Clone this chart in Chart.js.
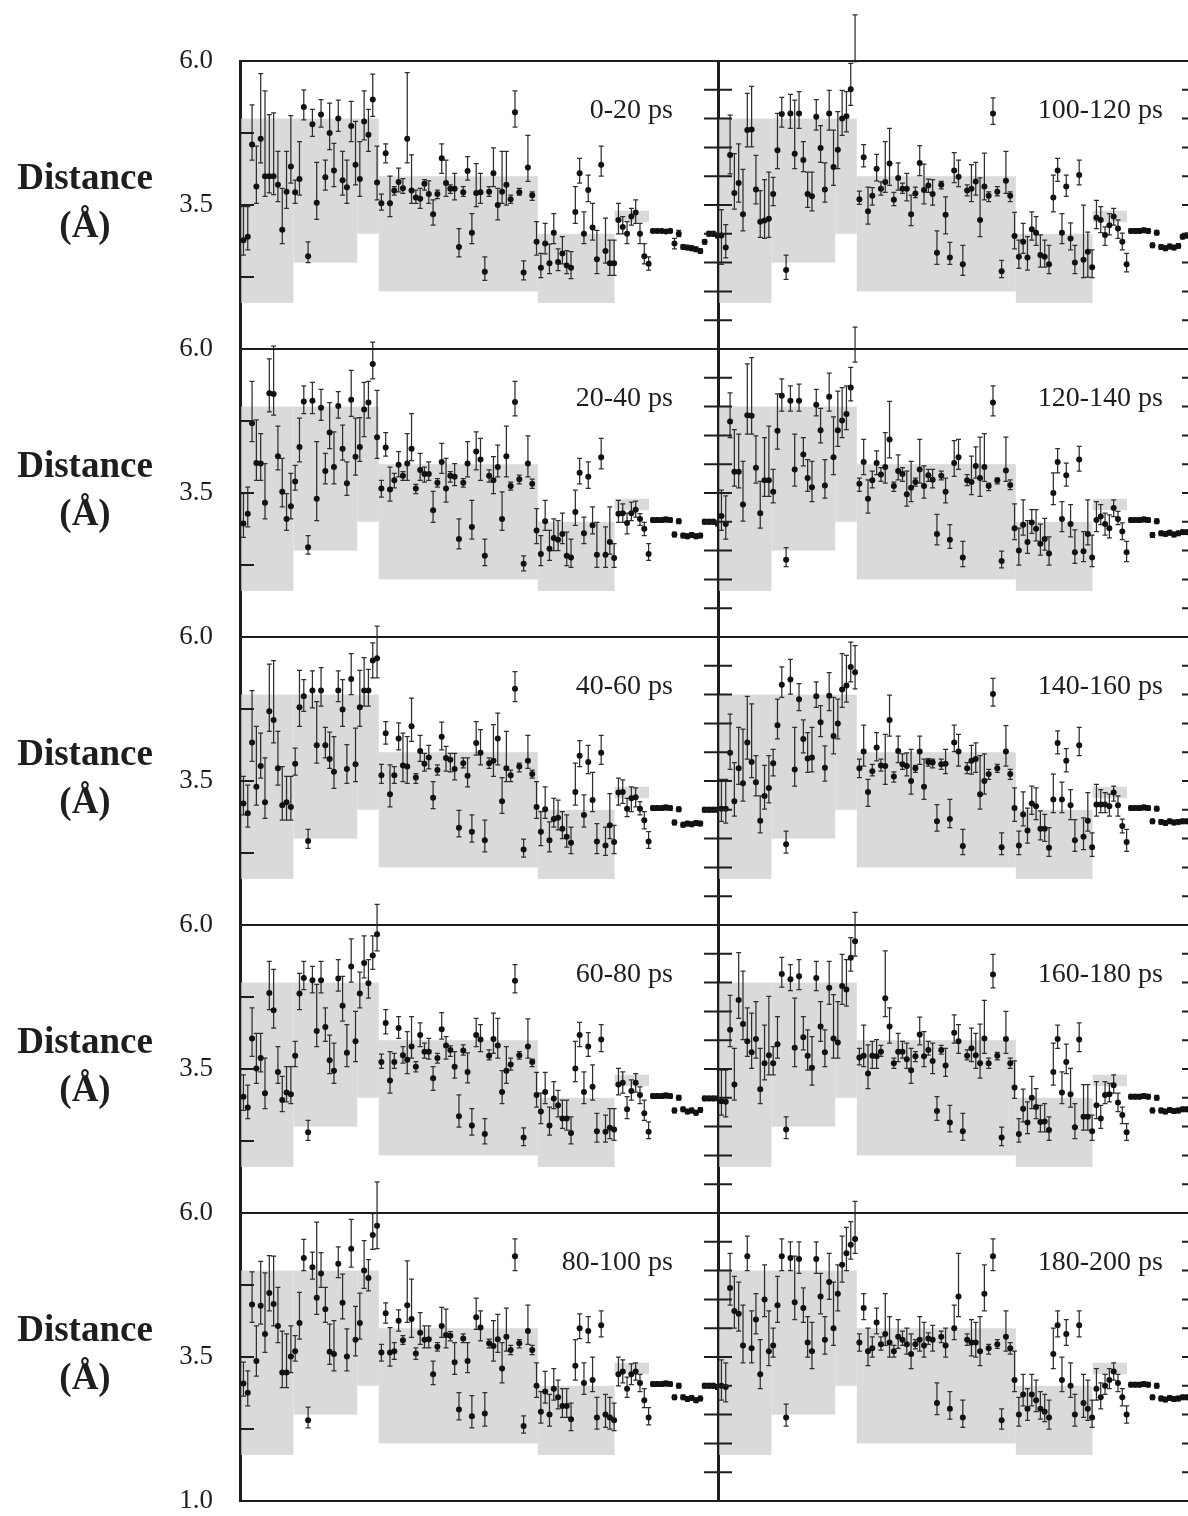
<!DOCTYPE html>
<html><head><meta charset="utf-8">
<script src="https://cdn.jsdelivr.net/npm/chart.js@4.4.0/dist/chart.umd.min.js"></script>
<style>
html,body{margin:0;padding:0;background:#fff;overflow:hidden;}
#wrap{position:relative;width:1188px;height:1516px;overflow:hidden;background:#fff;}
canvas{position:absolute;}
.ylab{position:absolute;left:0;width:170px;text-align:center;font-family:"Liberation Serif","Times New Roman",serif;font-weight:bold;font-size:37px;line-height:48px;color:#1e1e1e;}
.plab{position:absolute;text-align:right;font-family:"Liberation Serif","Times New Roman",serif;font-size:28px;line-height:28px;color:#1e1e1e;white-space:nowrap;}
</style></head><body><div id="wrap"></div>
<script>
// ---------------- DATA ----------------
const panelLabels = ['0-20 ps','20-40 ps','40-60 ps','60-80 ps','80-100 ps','100-120 ps','120-140 ps','140-160 ps','160-180 ps','180-200 ps'];
const yTickLabels = {6:'6.0', 3.5:'3.5', 1:'1.0'};
const yAxisLabel = ['Distance','(Å)'];
// NOE bound boxes (x in restraint index units)
const segStart = [-0.5, 11.6, 26.4, 31.4, 68.3, 86.1];
const segEnd   = [11.6, 26.4, 31.4, 68.3, 86.1, 94.1];
const segLow   = [1.8, 2.5, 3.0, 2.0, 1.8, 3.2];
const segHigh  = [5.0, 5.0, 5.0, 4.0, 3.0, 3.4];

// 0-20 ps
const V1 = [2.89,2.95,4.55,3.82,4.65,4.0,4.0,4.0,3.85,3.07,
3.73,4.17,3.72,3.95,5.2,2.61,4.9,3.54,5.07,3.98,
4.75,4.1,5.0,3.93,3.81,4.87,4.2,3.95,4.95,4.72,
5.33,3.89,3.53,4.4,3.53,3.75,3.9,3.79,4.65,3.75,
3.63,3.61,3.87,3.69,3.34,3.69,4.31,3.88,3.78,3.78,
2.77,3.72,4.09,3.02,3.71,3.72,2.34,3.73,4.05,3.5,
3.73,3.85,3.6,5.11,3.72,2.33,4.15,3.67,2.86,2.41,
2.83,2.49,3.02,2.51,2.66,2.45,2.41,3.38,4.05,3.0,
3.76,3.11,2.56,4.2,2.7,2.49,2.49,3.24,3.12,3.0,
3.3,3.37,3.0,2.61,2.48,3.05,3.05,3.05,3.04,3.05,
2.83,3.0,2.77,2.76,2.75,2.73,2.7,2.86,3.0,3.0,
2.97];
const H1 = [3.47,3.47,5.24,4.52,5.78,5.48,5.07,5.1,4.43,3.79,
4.43,5.05,3.93,4.6,5.5,2.86,5.16,4.24,5.33,4.28,
5.27,4.57,5.32,4.43,4.28,5.3,4.95,4.6,5.48,5.16,
5.77,4.52,3.69,4.56,4.0,3.82,4.14,3.96,5.8,4.37,
3.76,3.79,3.94,3.92,3.59,3.76,4.56,4.28,3.85,4.05,
3.09,3.82,4.34,3.35,4.22,4.05,2.6,3.82,4.49,3.79,
4.43,4.43,3.67,5.48,3.79,2.53,4.71,3.73,3.21,2.66,
3.18,2.82,3.35,2.74,2.95,2.71,2.69,3.82,4.31,3.38,
4.02,3.53,3.06,4.52,3.27,2.89,2.89,3.53,3.3,3.21,
3.44,3.59,3.18,2.83,2.6,3.08,3.08,3.08,3.07,3.08,
2.92,3.06,2.81,2.8,2.79,2.77,2.74,2.9,3.04,3.04,
3.01];
const L1 = [2.63,2.72,4.28,3.53,4.23,3.65,3.71,3.68,3.56,2.83,
3.44,3.88,3.53,3.67,4.98,2.5,4.69,3.25,4.85,3.76,
4.46,3.82,4.78,3.67,3.53,4.6,3.85,3.65,4.63,4.43,
5.04,3.59,3.41,4.23,3.3,3.67,3.73,3.7,4.23,3.53,
3.53,3.44,3.76,3.53,3.15,3.61,4.05,3.65,3.7,3.59,
2.6,3.65,3.93,2.83,3.47,3.53,2.19,3.65,3.82,3.24,
3.53,3.5,3.53,4.85,3.67,2.2,3.91,3.58,2.63,2.24,
2.65,2.31,2.83,2.36,2.48,2.31,2.22,3.18,3.88,2.83,
3.56,2.89,2.31,4.0,2.49,2.28,2.28,3.0,3.0,2.83,
3.15,3.18,2.83,2.48,2.37,3.02,3.02,3.02,3.01,3.02,
2.74,2.95,2.73,2.72,2.71,2.69,2.66,2.82,2.96,2.96,
2.93];

// 20-40 ps
const V2 = [2.97,3.14,4.71,4.02,4.01,3.33,5.23,5.22,4.14,3.52,
3.05,3.27,3.7,4.3,5.09,2.56,5.1,3.4,4.98,3.88,
4.55,3.95,5.01,4.27,3.67,5.12,4.13,4.3,4.95,5.07,
5.74,4.47,3.58,4.29,3.56,3.72,3.99,3.8,4.01,4.27,
3.58,3.9,3.83,3.83,3.2,3.68,4.04,3.58,3.8,3.78,
2.7,3.68,4.01,2.91,4.22,4.08,2.41,3.8,3.72,3.95,
3.05,4.14,3.62,5.08,3.74,2.27,4.01,3.66,2.85,2.44,
3.01,2.53,2.72,2.69,2.79,2.41,2.38,3.17,3.85,2.8,
3.78,2.94,2.43,4.12,2.43,2.65,2.37,3.14,3.15,2.98,
3.15,3.21,3.05,2.88,2.44,3.03,3.03,3.03,3.04,3.03,
2.78,3.01,2.76,2.75,2.77,2.75,2.76,3.0,3.0,3.0,
2.97];
const H2 = [3.49,3.6,5.44,4.77,4.53,4.01,5.83,6.05,4.66,4.1,
3.49,3.84,3.98,4.8,5.36,2.76,5.42,4.39,5.3,4.19,
5.07,4.56,5.26,4.68,4.04,5.63,4.8,4.81,5.42,5.44,
6.12,5.28,3.72,4.55,3.95,3.84,4.22,3.87,4.53,4.88,
3.65,4.19,3.95,4.04,3.53,3.75,4.36,4.1,3.87,4.01,
3.05,3.75,4.39,3.37,4.56,4.45,2.7,3.9,4.13,4.33,
3.52,4.66,3.69,5.44,3.81,2.41,4.49,3.74,3.23,2.76,
3.37,2.85,3.05,3.02,3.15,2.82,2.7,3.55,4.1,3.08,
4.04,3.26,2.99,4.45,2.91,3.26,2.62,3.37,3.31,3.15,
3.34,3.36,3.14,2.99,2.62,3.07,3.07,3.07,3.08,3.07,
2.82,3.05,2.8,2.79,2.81,2.79,2.8,3.04,3.04,3.04,
3.01];
const L2 = [2.73,2.91,4.39,3.72,3.72,3.05,4.91,4.85,3.9,3.26,
2.85,3.05,3.55,4.04,4.88,2.44,4.88,3.02,4.76,3.66,
4.27,3.66,4.8,4.07,3.46,4.83,3.81,4.05,4.48,4.8,
5.48,4.1,3.43,4.14,3.36,3.59,3.78,3.72,3.72,4.06,
3.49,3.72,3.69,3.72,2.99,3.6,3.84,3.34,3.69,3.63,
2.53,3.6,3.78,2.7,3.9,3.72,2.24,3.69,3.49,3.78,
2.85,3.78,3.55,4.84,3.66,2.15,3.78,3.58,2.62,2.24,
2.85,2.33,2.5,2.5,2.62,2.24,2.21,2.94,3.66,2.62,
3.58,2.79,2.21,3.92,2.21,2.44,2.21,2.99,2.99,2.79,
3.02,3.08,2.94,2.76,2.33,2.99,2.99,2.99,3.0,2.99,
2.74,2.97,2.72,2.71,2.73,2.71,2.72,2.96,2.96,2.96,
2.93];

// 40-60 ps
const V3 = [3.11,2.94,4.17,3.4,3.76,3.13,4.71,4.56,3.72,3.08,
3.13,3.05,3.8,4.78,4.97,2.46,5.07,4.12,5.07,4.12,
3.88,3.66,5.07,4.74,3.71,5.27,3.79,4.78,5.07,5.07,
5.59,5.63,3.6,4.33,3.27,3.6,4.24,3.77,3.75,4.45,
3.56,4.02,3.8,3.91,3.21,3.69,4.27,3.9,3.87,3.71,
2.69,3.81,3.59,2.62,4.16,3.99,2.47,3.81,3.85,4.24,
3.15,3.72,3.6,5.1,3.75,2.31,3.85,3.62,3.05,2.62,
3.01,2.47,2.84,2.86,2.67,2.53,2.43,3.31,3.94,2.91,
3.83,3.17,2.45,3.99,2.38,2.73,2.44,3.3,3.31,3.02,
3.2,3.22,3.02,2.82,2.45,3.03,3.03,3.03,3.04,3.03,
2.78,3.01,2.74,2.76,2.75,2.77,2.76,3.0,3.0,3.0,
3.0];
const H3 = [3.58,3.43,5.07,4.45,4.33,3.9,5.53,5.59,4.36,3.75,
3.58,3.58,4.07,5.42,5.26,2.66,5.41,4.88,5.47,4.43,
4.35,4.27,5.41,5.26,4.13,5.71,4.42,5.42,5.64,5.44,
5.9,6.19,3.79,4.53,3.78,3.75,4.51,4.33,4.27,4.94,
3.63,4.29,3.98,4.12,3.49,3.78,4.52,4.1,3.98,3.98,
2.99,3.9,3.9,2.91,4.53,4.39,2.82,3.9,4.48,4.68,
3.56,4.36,3.69,5.4,3.81,2.49,4.29,3.69,3.49,2.97,
3.4,2.79,3.2,3.17,2.97,2.91,2.7,3.81,4.2,3.26,
4.12,3.65,2.76,4.29,2.7,3.28,2.73,3.55,3.52,3.2,
3.4,3.38,3.14,2.97,2.62,3.07,3.07,3.07,3.08,3.07,
2.82,3.05,2.78,2.8,2.79,2.81,2.8,3.04,3.04,3.04,
3.04];
const L3 = [2.91,2.7,3.84,3.08,3.55,2.85,4.36,4.16,3.43,2.82,
2.82,2.82,3.6,4.45,4.71,2.33,4.77,3.81,4.8,3.9,
3.72,3.37,4.88,4.45,3.46,5.0,3.49,4.45,4.8,4.8,
5.29,5.29,3.46,4.14,3.05,3.46,4.04,3.49,3.46,4.19,
3.46,3.84,3.67,3.71,3.02,3.6,4.04,3.67,3.66,3.52,
2.53,3.73,3.4,2.44,3.95,3.78,2.27,3.72,3.58,3.78,
2.94,3.49,3.49,4.88,3.66,2.18,3.72,3.55,2.85,2.38,
2.85,2.27,2.7,2.65,2.5,2.35,2.24,3.08,3.75,2.7,
3.63,2.97,2.24,3.79,2.21,2.5,2.24,3.08,3.11,2.88,
2.97,3.05,2.91,2.67,2.33,2.99,2.99,2.99,3.0,2.99,
2.74,2.97,2.7,2.72,2.71,2.73,2.72,2.96,2.96,2.96,
2.96];

// 60-80 ps
const V4 = [3.02,2.83,4.03,3.51,3.69,3.08,4.82,4.52,3.45,2.96,
3.09,3.06,3.73,4.81,5.08,2.4,5.04,4.16,5.04,4.23,
3.65,3.47,5.07,4.6,3.78,5.28,3.98,4.81,5.34,4.99,
5.47,5.84,3.62,4.3,3.3,3.62,4.21,3.74,3.66,3.89,
3.54,4.09,3.8,3.8,3.34,3.69,4.19,3.91,3.83,3.54,
2.68,3.82,3.45,2.52,4.09,4.01,2.37,3.73,4.02,3.91,
3.1,3.47,3.58,5.03,3.74,2.31,3.89,3.62,3.05,2.76,
3.1,2.52,2.99,2.87,2.64,2.64,2.39,3.51,4.09,3.1,
3.89,3.19,2.42,4.01,2.41,2.48,2.45,3.23,3.26,2.8,
3.12,3.26,3.05,2.73,2.41,3.03,3.03,3.03,3.04,3.03,
2.78,3.0,2.8,2.76,2.78,2.74,2.79,2.99,2.99,2.99,
2.99];
const H4 = [3.4,3.22,4.56,4.12,4.12,3.69,5.37,5.23,3.89,3.37,
3.54,3.54,3.98,5.16,5.37,2.61,5.28,4.97,5.37,4.56,
4.09,3.95,5.4,5.11,4.27,5.76,4.5,5.18,5.81,5.4,
5.81,6.36,3.76,4.53,3.8,3.77,4.41,3.89,4.15,4.41,
3.63,4.3,3.95,4.03,3.54,3.77,4.48,4.06,3.9,3.8,
3.05,3.92,3.78,2.81,4.38,4.27,2.64,3.83,4.47,4.38,
3.47,3.89,3.69,5.31,3.8,2.48,4.37,3.67,3.44,3.08,
3.44,2.84,3.28,3.13,2.96,2.96,2.67,3.98,4.31,3.45,
4.13,3.57,2.73,4.27,2.7,2.81,2.81,3.51,3.45,3.02,
3.31,3.42,3.19,2.96,2.58,3.07,3.07,3.07,3.08,3.07,
2.82,3.04,2.84,2.8,2.82,2.78,2.83,3.03,3.03,3.03,
3.03];
const L4 = [2.78,2.64,3.72,3.25,3.45,2.81,4.53,4.21,3.25,2.76,
2.93,2.9,3.54,4.53,4.88,2.26,4.82,3.89,4.82,3.98,
3.42,3.25,4.85,4.33,3.54,5.01,3.63,4.56,5.08,4.73,
5.23,5.55,3.51,4.11,3.08,3.51,4.03,3.6,3.42,3.69,
3.45,3.89,3.69,3.67,3.13,3.6,4.02,3.67,3.72,3.34,
2.49,3.74,3.26,2.35,3.89,3.8,2.2,3.66,3.77,3.69,
2.9,3.25,3.48,4.82,3.67,2.17,3.69,3.54,2.84,2.55,
2.9,2.35,2.81,2.67,2.47,2.44,2.2,3.28,3.89,2.9,
3.72,2.96,2.23,3.8,2.23,2.29,2.26,3.05,3.08,2.64,
2.96,3.1,2.9,2.61,2.29,2.99,2.99,2.99,3.0,2.99,
2.74,2.96,2.76,2.72,2.74,2.7,2.75,2.95,2.95,2.95,
2.95];

// 80-100 ps
const V5 = [3.04,2.88,4.41,3.43,4.39,3.9,4.61,4.42,4.04,3.23,
3.23,3.51,3.6,4.09,5.22,2.4,5.06,4.53,4.95,4.33,
3.59,3.55,5.12,4.44,3.51,5.38,3.8,4.09,5.0,4.87,
5.62,5.78,3.58,4.26,3.58,3.6,4.13,3.79,4.4,4.16,
3.56,3.92,3.8,3.81,3.2,3.68,4.04,3.88,3.87,3.41,
2.59,3.82,3.43,2.47,4.19,4.01,2.52,3.74,3.69,3.81,
3.3,3.85,3.62,5.25,3.74,2.3,3.95,3.62,3.0,2.55,
2.9,2.5,2.95,2.8,2.65,2.65,2.42,3.35,4.0,3.05,
3.95,3.1,2.45,4.05,2.5,2.45,2.4,3.2,3.25,2.95,
3.2,3.25,3.05,2.75,2.45,3.03,3.03,3.03,3.04,3.03,
2.8,3.0,2.8,2.77,2.79,2.75,2.78,3.0,3.0,3.0,
2.98];
const H5 = [3.41,3.26,4.98,4.04,5.16,4.96,5.26,5.25,4.71,3.95,
3.9,4.04,3.87,4.62,5.54,2.63,5.32,5.84,5.31,4.71,
4.07,4.13,5.41,4.94,3.99,5.89,4.38,4.61,5.52,5.19,
5.99,6.54,3.72,4.44,4.01,3.75,4.32,3.87,5.17,4.85,
3.66,4.27,4.04,4.04,3.43,3.75,4.36,4.33,3.94,3.75,
2.88,3.9,3.75,2.83,4.52,4.3,2.88,3.81,4.13,4.24,
3.75,4.35,3.7,5.55,3.8,2.48,4.4,3.7,3.4,2.9,
3.25,2.85,3.3,3.1,2.95,2.95,2.7,3.8,4.25,3.4,
4.2,3.5,2.8,4.3,2.85,2.8,2.7,3.5,3.45,3.15,
3.38,3.4,3.2,2.95,2.62,3.07,3.07,3.07,3.08,3.07,
2.84,3.04,2.84,2.81,2.83,2.79,2.82,3.04,3.04,3.04,
3.02];
const L5 = [2.82,2.65,4.1,3.17,4.07,3.58,4.3,4.04,3.75,2.97,
2.97,3.23,3.43,3.81,5.0,2.27,4.85,4.24,4.71,4.1,
3.37,3.26,4.88,4.16,3.26,5.06,3.52,3.81,4.69,4.65,
5.37,5.38,3.43,4.09,3.34,3.46,3.95,3.72,4.1,3.84,
3.46,3.72,3.66,3.66,3.02,3.6,3.84,3.66,3.78,3.2,
2.41,3.75,3.23,2.27,3.98,3.78,2.3,3.66,3.43,3.58,
3.05,3.6,3.54,5.0,3.66,2.18,3.72,3.54,2.8,2.35,
2.7,2.3,2.75,2.6,2.45,2.45,2.22,3.1,3.82,2.85,
3.75,2.9,2.25,3.85,2.28,2.25,2.22,3.0,3.05,2.8,
3.02,3.1,2.9,2.62,2.32,2.99,2.99,2.99,3.0,2.99,
2.76,2.96,2.76,2.73,2.75,2.71,2.74,2.96,2.96,2.96,
2.94];

// 100-120 ps
const V6 = [2.97,2.76,4.37,3.71,3.88,3.34,4.8,4.81,3.77,3.21,
3.23,3.26,3.69,4.45,5.08,2.37,5.09,4.39,5.09,4.28,
3.69,3.65,5.03,4.49,3.77,5.09,4.16,4.46,5.0,5.04,
5.51,6.31,3.6,4.33,3.39,3.66,4.13,3.78,3.9,4.22,
3.59,3.97,3.78,3.78,3.34,3.7,4.23,3.76,3.84,3.69,
2.67,3.85,3.33,2.59,4.1,3.99,2.47,3.75,3.78,3.91,
3.24,3.82,3.66,5.09,3.73,2.35,3.92,3.66,2.96,2.6,
2.86,2.59,3.08,3.02,2.63,2.6,2.47,3.63,4.1,3.02,
3.82,2.92,2.5,4.02,2.55,2.69,2.42,3.28,3.24,2.98,
3.15,3.3,3.09,2.86,2.47,3.05,3.05,3.05,3.06,3.05,
2.8,3.02,2.77,2.75,2.78,2.76,2.79,2.95,2.97,2.97,
2.95];
const H6 = [3.42,3.16,5.06,4.39,4.56,4.12,5.44,5.56,4.36,3.75,
3.94,4.07,3.98,5.09,5.37,2.63,5.42,5.32,5.47,4.6,
4.07,4.07,5.33,4.88,4.23,5.49,4.8,5.12,5.49,5.47,
5.96,6.8,3.74,4.55,3.81,3.8,4.38,3.9,4.6,4.83,
3.72,4.23,3.88,4.05,3.67,3.81,4.53,4.21,3.95,3.94,
3.05,3.91,3.64,2.85,4.41,4.28,2.8,3.85,4.2,4.24,
3.97,4.4,3.73,5.36,3.82,2.54,4.43,3.73,3.37,2.89,
3.18,2.95,3.38,3.3,2.98,2.89,2.8,4.02,4.31,3.35,
4.02,3.19,2.8,4.28,3.5,3.03,2.72,3.58,3.47,3.12,
3.35,3.44,3.24,3.01,2.66,3.09,3.09,3.09,3.1,3.09,
2.84,3.06,2.81,2.79,2.82,2.8,2.83,2.99,3.01,3.01,
2.99];
const L6 = [2.47,2.58,4.04,3.43,3.55,3.05,4.51,4.51,3.52,2.94,
2.92,2.94,3.49,4.13,4.85,2.21,4.83,4.13,4.83,4.08,
3.46,3.4,4.8,4.24,3.55,4.8,3.84,4.13,4.71,4.77,
5.23,5.99,3.51,4.16,3.17,3.5,3.92,3.67,3.72,3.84,
3.49,3.76,3.7,3.57,3.14,3.63,4.01,3.52,3.72,3.5,
2.47,3.78,3.0,2.47,3.89,3.82,2.28,3.66,3.56,3.67,
2.95,3.59,3.56,4.9,3.66,2.24,3.7,3.56,2.74,2.4,
2.66,2.37,2.89,2.8,2.42,2.42,2.31,3.38,3.91,2.83,
3.65,2.72,2.31,3.85,2.24,2.25,2.24,3.09,3.02,2.8,
2.98,3.15,2.92,2.72,2.34,3.01,3.01,3.01,3.02,3.01,
2.76,2.98,2.73,2.71,2.74,2.72,2.75,2.91,2.93,2.93,
2.91];

// 120-140 ps
const V7 = [3.1,2.96,4.74,3.87,3.87,3.3,4.85,4.84,3.94,3.15,
3.72,3.72,3.52,4.58,5.19,2.34,5.1,3.91,5.1,4.17,
3.76,3.6,5.03,4.59,3.63,5.17,4.12,4.59,4.76,4.87,
5.33,6.06,3.66,4.04,3.4,3.72,4.02,3.82,3.95,4.43,
3.62,3.88,3.83,3.48,3.59,3.69,3.91,3.62,3.81,3.73,
2.79,3.8,3.52,2.69,4.02,4.12,2.38,3.72,3.69,3.97,
3.76,3.95,3.62,5.07,3.72,2.32,3.89,3.64,2.89,2.5,
2.95,2.65,2.99,2.88,2.62,2.7,2.45,3.5,4.04,3.05,
3.81,2.96,2.47,4.08,2.49,2.79,2.38,3.03,3.09,2.96,
2.89,3.24,3.05,2.83,2.47,3.03,3.03,3.03,3.04,3.03,
2.77,3.01,2.8,2.79,2.81,2.78,2.8,2.82,2.82,2.8,
2.8];
const H7 = [3.55,3.45,5.24,4.6,4.52,4.05,5.74,5.85,4.49,3.7,
4.46,4.66,3.91,5.22,5.48,2.55,5.36,4.52,5.39,4.46,
4.08,4.05,5.3,4.97,4.08,5.58,4.82,5.27,5.33,5.36,
5.68,6.38,3.76,4.43,3.73,3.88,4.23,3.94,4.55,5.09,
3.69,4.16,3.94,3.88,4.05,3.76,4.43,3.97,3.91,3.91,
3.13,3.88,3.76,2.95,4.41,4.43,2.66,3.82,4.14,4.3,
4.47,4.53,3.67,5.36,3.76,2.49,4.47,3.73,3.31,2.89,
3.38,3.02,3.21,3.21,2.96,3.06,2.74,3.85,4.27,3.35,
4.02,3.3,2.86,4.31,2.83,3.38,2.77,3.35,3.3,3.15,
3.12,3.38,3.18,2.98,2.66,3.07,3.07,3.07,3.08,3.07,
2.81,3.05,2.84,2.83,2.85,2.82,2.84,2.86,2.86,2.84,
2.84];
const L7 = [2.85,2.7,4.46,3.62,3.59,3.01,4.52,4.52,3.67,2.89,
3.44,3.44,3.33,4.26,4.92,2.22,4.92,3.62,4.92,3.97,
3.53,3.35,4.84,4.37,3.41,4.92,3.82,4.31,4.46,4.6,
5.1,5.77,3.53,3.82,3.15,3.59,3.82,3.7,3.67,4.11,
3.53,3.73,3.7,3.27,3.35,3.62,3.67,3.41,3.7,3.59,
2.6,3.73,3.33,2.54,3.79,3.91,2.22,3.63,3.47,3.76,
3.44,3.7,3.54,4.84,3.66,2.2,3.7,3.56,2.69,2.25,
2.77,2.45,2.8,2.67,2.42,2.51,2.25,3.3,3.85,2.83,
3.62,2.74,2.28,3.88,2.31,2.6,2.22,2.83,2.95,2.77,
2.72,3.09,2.95,2.69,2.31,2.99,2.99,2.99,3.0,2.99,
2.73,2.97,2.76,2.75,2.77,2.74,2.76,2.78,2.78,2.76,
2.76];

// 140-160 ps
const V8 = [3.02,3.02,3.99,3.15,3.72,3.46,4.17,3.83,3.48,2.81,
3.24,3.38,3.81,4.47,5.17,2.4,5.26,3.7,4.92,4.23,
3.89,3.91,4.97,4.52,3.73,4.98,4.28,4.5,5.09,5.16,
5.48,5.39,3.72,4.01,3.31,3.67,4.08,3.77,3.76,4.56,
3.58,4.02,3.79,3.76,3.5,3.72,4.01,3.4,3.83,3.82,
2.8,3.79,3.8,2.84,4.17,4.01,2.37,3.72,3.85,3.88,
3.27,3.5,3.62,5.01,3.72,2.35,4.01,3.62,3.03,2.38,
2.92,2.64,3.11,3.06,2.67,2.67,2.34,3.18,4.16,3.18,
3.85,3.08,2.47,4.12,2.53,2.81,2.35,3.09,3.09,3.09,
3.06,3.3,3.08,2.72,2.44,3.03,3.03,3.03,3.04,3.03,
2.8,3.02,2.79,2.77,2.8,2.78,2.79,2.8,2.8,2.8,
2.8];
const H8 = [3.53,3.53,4.66,3.82,4.43,4.4,4.97,4.84,3.94,3.24,
3.77,3.94,4.05,4.92,5.48,2.63,5.61,4.43,5.19,4.56,
4.34,4.43,5.22,4.81,4.11,5.38,4.95,4.92,5.71,5.68,
5.91,5.85,3.88,4.47,3.53,3.79,4.34,3.88,4.31,4.99,
3.66,4.28,3.97,3.99,4.05,3.77,4.28,3.88,3.89,3.88,
3.09,3.88,4.05,3.18,4.47,4.31,2.66,3.82,4.12,4.16,
3.94,3.97,3.7,5.28,3.79,2.6,4.46,3.7,3.38,2.63,
3.31,3.03,3.41,3.38,2.98,2.92,2.69,3.62,4.37,3.48,
4.06,3.35,2.83,4.43,2.86,3.3,2.6,3.44,3.35,3.3,
3.27,3.41,3.24,2.84,2.66,3.07,3.07,3.07,3.08,3.07,
2.84,3.06,2.83,2.81,2.84,2.82,2.83,2.84,2.84,2.84,
2.84];
const L8 = [2.8,2.77,3.7,2.89,3.44,3.15,3.88,3.56,3.24,2.6,
3.01,3.12,3.59,4.23,4.95,2.25,5.01,3.41,4.72,3.99,
3.65,3.66,4.78,4.27,3.5,4.72,3.97,4.23,4.78,4.87,
5.22,5.1,3.56,3.76,3.06,3.59,3.85,3.67,3.44,4.28,
3.48,3.82,3.7,3.59,3.27,3.65,3.79,3.18,3.76,3.73,
2.63,3.7,3.63,2.69,4.01,3.76,2.22,3.63,3.62,3.65,
3.01,3.27,3.53,4.8,3.65,2.22,3.76,3.53,2.8,2.22,
2.72,2.42,2.92,2.83,2.48,2.45,2.19,2.95,3.97,2.95,
3.66,2.83,2.28,3.94,2.31,2.63,2.19,2.89,2.95,2.95,
2.89,3.15,2.89,2.6,2.28,2.99,2.99,2.99,3.0,2.99,
2.76,2.98,2.75,2.73,2.76,2.74,2.75,2.76,2.76,2.76,
2.76];

// 160-180 ps
const V9 = [2.94,2.93,4.18,3.23,4.7,4.28,3.98,3.79,4.02,3.15,
3.6,3.74,3.6,3.93,5.15,2.45,5.06,3.87,5.11,4.05,
3.73,3.52,5.08,4.24,3.79,4.91,4.03,3.96,4.94,4.88,
5.43,5.72,3.7,3.73,3.42,3.73,3.72,3.8,4.73,4.24,
3.6,3.8,3.8,3.67,3.48,3.72,4.1,3.72,3.83,3.64,
2.77,3.83,3.56,2.57,4.13,3.98,2.42,3.73,3.86,3.74,
3.6,4.03,3.6,5.14,3.73,2.31,4.02,3.6,3.18,2.37,
2.81,2.57,3.0,2.84,2.58,2.59,2.44,3.45,4.02,3.09,
3.62,3.06,2.49,4.01,2.67,2.67,2.42,2.87,2.64,3.05,
3.06,3.22,2.92,2.7,2.4,3.02,3.02,3.02,3.03,3.02,
2.78,3.0,2.78,2.76,2.79,2.77,2.78,2.8,2.8,2.8,
2.8];
const H9 = [3.48,3.48,4.78,3.86,5.52,5.2,4.56,4.47,4.67,3.86,
4.26,4.76,3.89,4.41,5.44,2.67,5.31,4.73,5.4,4.41,
4.18,4.06,5.37,4.67,4.18,5.37,4.79,4.67,5.49,5.4,
5.78,6.22,3.86,4.26,3.92,3.98,4.01,3.91,5.55,4.56,
3.69,4.12,3.98,3.95,3.86,3.8,4.4,4.15,3.98,3.95,
3.02,3.91,3.86,2.87,4.44,4.27,2.73,3.83,4.21,4.12,
4.28,4.69,3.69,5.49,3.79,2.49,4.5,3.69,3.64,2.64,
3.15,2.93,3.37,3.16,2.87,2.9,2.67,3.95,4.26,3.45,
3.93,3.51,2.9,4.3,3.23,3.23,2.7,3.28,2.87,3.28,
3.25,3.4,3.08,2.84,2.55,3.06,3.06,3.06,3.07,3.06,
2.82,3.04,2.82,2.8,2.83,2.81,2.82,2.84,2.84,2.84,
2.84];
const L9 = [2.7,2.67,3.89,2.96,4.38,4.01,3.72,3.51,3.69,2.9,
3.31,3.4,3.4,3.69,4.92,2.29,4.86,3.54,4.88,3.83,
3.48,3.22,4.86,3.98,3.54,4.62,3.69,3.69,4.62,4.59,
5.2,5.46,3.57,3.54,3.16,3.51,3.51,3.72,4.41,3.95,
3.51,3.63,3.69,3.51,3.25,3.63,3.92,3.54,3.74,3.42,
2.61,3.76,3.37,2.41,3.95,3.77,2.26,3.66,3.63,3.51,
3.34,3.77,3.51,4.91,3.66,2.17,3.77,3.51,2.99,2.23,
2.58,2.38,2.81,2.64,2.41,2.41,2.26,3.22,3.86,2.9,
3.42,2.84,2.29,3.8,2.44,2.44,2.26,2.64,2.47,2.9,
2.93,3.08,2.76,2.55,2.26,2.98,2.98,2.98,2.99,2.98,
2.74,2.96,2.74,2.72,2.75,2.73,2.74,2.76,2.76,2.76,
2.76];

// 180-200 ps
const V10 = [3.0,2.98,4.7,4.3,4.25,3.7,5.25,3.65,4.15,3.2,
4.5,3.6,3.7,4.4,5.25,2.45,5.22,4.45,5.2,4.35,
3.75,3.6,5.2,4.55,3.8,4.8,4.0,4.6,5.1,5.3,
5.45,5.55,3.75,4.35,3.6,3.65,4.1,3.72,3.9,3.75,
3.6,3.85,3.8,3.72,3.55,3.72,3.8,3.7,3.82,3.8,
2.7,3.85,3.7,2.6,4.0,4.55,2.45,3.8,3.75,3.75,
3.6,4.6,3.65,5.25,3.72,2.4,3.85,3.65,3.1,2.5,
2.85,2.6,2.85,2.75,2.6,2.55,2.45,3.55,4.05,3.1,
3.9,3.0,2.5,4.05,2.7,2.6,2.45,2.95,2.8,3.0,
3.1,3.25,3.05,2.8,2.5,3.02,3.02,3.02,3.03,3.02,
2.8,3.0,2.78,2.76,2.79,2.77,2.78,2.8,2.8,2.8,
2.8];
const H10 = [3.45,3.4,5.3,4.9,4.8,4.4,5.6,4.3,4.6,3.8,
5.1,4.3,4.0,4.9,5.55,2.68,5.5,5.25,5.5,4.7,
4.2,4.1,5.5,4.95,4.2,5.3,4.8,5.1,5.6,5.75,
5.85,6.2,3.9,4.6,4.0,3.85,4.35,3.85,4.6,4.2,
3.7,4.15,3.95,4.0,3.9,3.8,4.2,4.1,3.92,4.05,
3.05,3.95,4.0,2.9,4.4,5.3,2.75,3.9,4.15,4.1,
4.2,5.1,3.72,5.55,3.8,2.6,4.3,3.75,3.6,2.8,
3.2,2.95,3.2,3.1,2.9,2.85,2.75,4.0,4.3,3.5,
4.15,3.4,2.85,4.3,3.2,3.1,2.75,3.3,3.05,3.2,
3.3,3.4,3.2,2.95,2.65,3.06,3.06,3.06,3.07,3.06,
2.84,3.04,2.82,2.8,2.83,2.81,2.82,2.84,2.84,2.84,
2.84];
const L10 = [2.75,2.72,4.4,4.0,3.95,3.4,5.0,3.4,3.9,2.95,
4.2,3.35,3.5,4.1,5.0,2.3,5.0,4.15,4.95,4.1,
3.5,3.3,4.95,4.25,3.55,4.5,3.7,4.3,4.8,5.0,
5.2,5.3,3.6,4.15,3.35,3.5,3.9,3.62,3.7,3.5,
3.5,3.65,3.7,3.55,3.3,3.64,3.6,3.5,3.72,3.6,
2.5,3.75,3.5,2.42,3.8,4.2,2.28,3.7,3.52,3.5,
3.35,4.3,3.55,5.0,3.65,2.25,3.6,3.55,2.9,2.3,
2.65,2.4,2.65,2.55,2.42,2.38,2.25,3.3,3.85,2.9,
3.7,2.8,2.3,3.85,2.45,2.4,2.28,2.75,2.6,2.85,
2.95,3.1,2.9,2.65,2.35,2.98,2.98,2.98,2.99,2.98,
2.76,2.96,2.74,2.72,2.75,2.73,2.74,2.76,2.76,2.76,
2.76];

const values = [V1,V2,V3,V4,V5,V6,V7,V8,V9,V10];
const highs  = [H1,H2,H3,H4,H5,H6,H7,H8,H9,H10];
const lows   = [L1,L2,L3,L4,L5,L6,L7,L8,L9,L10];

// ---------------- LAYOUT ----------------
const TOPS = [61, 349, 637, 925, 1213];
const PANEL_H = 288;
const COL_LEFT = [240, 718], COL_RIGHT = [718, 1196];
const XMIN = -0.8, XMAX = 110.1;
const FONT = "'Liberation Serif','Times New Roman',serif";
const wrap = document.getElementById('wrap');

function decoPlugin(col, row) {
  return {
    id: 'deco',
    beforeDatasetsDraw(chart) {
      const {ctx, scales: {x, y}} = chart;
      ctx.save();
      ctx.fillStyle = '#dadada';
      for (let s = 0; s < segStart.length; s++) {
        const x0 = x.getPixelForValue(segStart[s]), x1 = x.getPixelForValue(segEnd[s]);
        const y0 = y.getPixelForValue(segHigh[s]), y1 = y.getPixelForValue(segLow[s]);
        ctx.fillRect(x0, y0, x1 - x0, y1 - y0);
      }
      const ds = chart.data.datasets[0];
      ctx.strokeStyle = '#2e2e2e';
      ctx.lineWidth = 1.25;
      ctx.beginPath();
      ds.data.forEach((p, i) => {
        const px = x.getPixelForValue(p.x);
        const ph = y.getPixelForValue(ds.hi[i]), pl = y.getPixelForValue(ds.lo[i]);
        ctx.moveTo(px, ph); ctx.lineTo(px, pl);
        ctx.moveTo(px - 2.5, ph); ctx.lineTo(px + 2.5, ph);
        ctx.moveTo(px - 2.5, pl); ctx.lineTo(px + 2.5, pl);
      });
      ctx.stroke();
      ctx.restore();
    },
    afterDraw(chart) {
      const {ctx, chartArea: a, scales: {y}} = chart;
      ctx.save();
      ctx.strokeStyle = '#1e1e1e';
      ctx.lineWidth = 2;
      ctx.beginPath();
      y.ticks.forEach(t => {
        if (t.value <= y.min || t.value >= y.max) return;
        const py = y.getPixelForValue(t.value);
        if (col === 0) {
          ctx.moveTo(a.left, py); ctx.lineTo(a.left + 14, py);
        } else {
          ctx.moveTo(a.left - 14, py); ctx.lineTo(a.left + 14, py);
          ctx.moveTo(a.right - 14, py); ctx.lineTo(a.right + 14, py);
        }
      });
      ctx.moveTo(a.left, a.top); ctx.lineTo(a.right, a.top);
      if (row === 4) { ctx.moveTo(a.left, a.bottom); ctx.lineTo(a.right, a.bottom); }
      ctx.stroke();
      if (col === 1) {
        ctx.lineWidth = 3;
        ctx.beginPath();
        ctx.moveTo(a.right, a.top); ctx.lineTo(a.right, a.bottom);
        ctx.stroke();
      }
      ctx.restore();
    }
  };
}

function makePanel(k) {
  const col = k < 5 ? 0 : 1, row = k % 5;
  const top = TOPS[row];
  const padTop = 70, padBot = 50;
  const cLeft = col === 0 ? 0 : 700;
  const cW = col === 0 ? 745 : 530;
  const cH = PANEL_H + padTop + padBot;
  const cv = document.createElement('canvas');
  cv.width = cW; cv.height = cH;
  cv.style.left = cLeft + 'px'; cv.style.top = (top - padTop) + 'px';
  cv.style.width = cW + 'px'; cv.style.height = cH + 'px';
  wrap.appendChild(cv);
  const axisW = COL_LEFT[col] - cLeft;
  const rightPad = cW - (COL_RIGHT[col] - cLeft);
  const idx = values[k].map((v, i) => i);
  new Chart(cv, {
    type: 'scatter',
    data: {
      datasets: [{
        data: idx.map(i => ({x: i, y: values[k][i]})),
        hi: highs[k], lo: lows[k],
        pointRadius: 3, pointHoverRadius: 3,
        backgroundColor: '#111', borderColor: '#111', borderWidth: 0,
        clip: false
      }]
    },
    options: {
      responsive: false, animation: false, events: [], devicePixelRatio: 1,
      layout: {padding: {left: 0, right: rightPad, top: padTop, bottom: padBot}},
      plugins: {legend: {display: false}, tooltip: {enabled: false}, title: {display: false}},
      scales: {
        x: {type: 'linear', min: XMIN, max: XMAX, display: false},
        y: {
          type: 'linear', min: 1, max: 6, position: 'left',
          afterFit: s => { s.width = axisW; },
          border: {display: true, color: '#1e1e1e', width: 3},
          grid: {display: true, drawOnChartArea: false, drawTicks: false, color: 'rgba(0,0,0,0)'},
          ticks: {
            stepSize: col === 0 ? 1.25 : 0.5, autoSkip: false, maxTicksLimit: 20,
            display: col === 0, padding: 27, color: '#1e1e1e',
            font: {family: FONT, size: 27},
            callback: v => {
              if (v === 6 || v === 3.5) return yTickLabels[v];
              if (v === 1 && row === 4) return yTickLabels[1];
              return '';
            }
          }
        }
      }
    },
    plugins: [decoPlugin(col, row)]
  });
  const lab = document.createElement('div');
  lab.className = 'plab';
  lab.textContent = panelLabels[k];
  lab.style.top = (top + 57 - 23.4) + 'px';
  lab.style.right = (col === 0 ? 1188 - 673 : 1188 - 1163) + 'px';
  wrap.appendChild(lab);
}

for (let k = 0; k < 10; k++) makePanel(k);
for (let r = 0; r < 5; r++) {
  const d = document.createElement('div');
  d.className = 'ylab';
  d.style.top = (TOPS[r] + 128 - 36.5) + 'px';
  d.innerHTML = yAxisLabel[0] + '<br>' + yAxisLabel[1];
  wrap.appendChild(d);
}
</script>
</body></html>
